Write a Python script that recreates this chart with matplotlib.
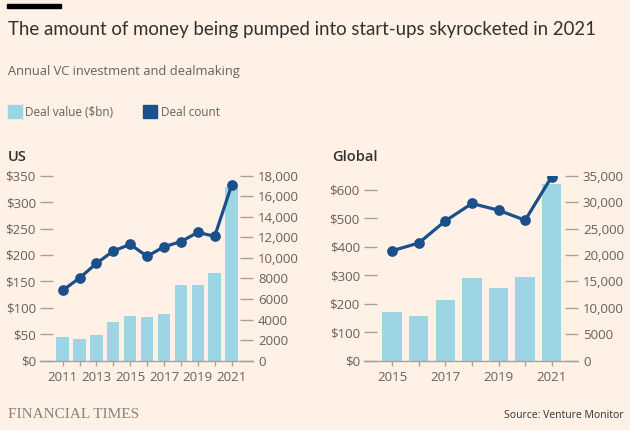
import matplotlib
matplotlib.use("Agg")
import matplotlib.pyplot as plt
from matplotlib.patches import Rectangle

# data
us_years = [2011, 2012, 2013, 2014, 2015, 2016, 2017, 2018, 2019, 2020, 2021]
us_value = [45, 41, 48, 74, 85, 82, 88, 144, 144, 166, 329]
us_count = [6840, 8040, 9470, 10670, 11320, 10150, 11090, 11580, 12490, 12100, 17060]

gl_years = [2015, 2016, 2017, 2018, 2019, 2020, 2021]
gl_value = [170, 157, 212, 289, 257, 294, 621]
gl_count = [20800, 22260, 26440, 29740, 28470, 26570, 34810]

us_left_ticks = [0, 50, 100, 150, 200, 250, 300, 350]
us_right_ticks = [0, 2000, 4000, 6000, 8000, 10000, 12000, 14000, 16000, 18000]
gl_left_ticks = [0, 100, 200, 300, 400, 500, 600]
gl_right_ticks = [0, 5000, 10000, 15000, 20000, 25000, 30000, 35000]

BG = "#fff1e5"
BAR = "#9dd5e5"
LINE = "#1b4f8a"
TICK = "#a8a19b"
LABEL = "#66605c"
DARK = "#33302e"

plt.rcParams['font.family'] = ['Open Sans', 'DejaVu Sans']


def fmt_count(v):
    # FT style: no comma for 4-digit numbers
    if v < 10000:
        return "{}".format(v)
    return "{:,}".format(v)


def panel(rect, years, value, count, ylim, ylim2, lticks, rticks, labelled):
    ax = fig.add_axes(rect)
    ax.set_facecolor("none")
    ax.bar(years, value, width=0.73, color=BAR, zorder=2)
    ax.set_ylim(0, ylim)
    ax.set_xlim(years[0] - 0.57, years[-1] + 0.5)
    ax.set_yticks(lticks)
    ax.set_yticklabels(["${}".format(t) for t in lticks])
    ax.set_xticks(years)
    ax.set_xticklabels([str(y) if y in labelled else "" for y in years])
    for s in ax.spines.values():
        s.set_visible(False)
    ax.tick_params(axis="y", length=9.4, width=1, color=TICK, pad=3,
                   labelsize=9.5, labelcolor=LABEL)
    ax.tick_params(axis="x", length=3.6, width=1, color=TICK, pad=4,
                   labelsize=9.5, labelcolor=LABEL)
    ext = 13.0 / (rect[2] * 630)
    ax.axhline(0, xmin=-ext, xmax=1 + ext, color=TICK, lw=1, clip_on=False, zorder=3)

    ax2 = ax.twinx()
    ax2.plot(years, count, color=LINE, lw=2.3, marker="o", markersize=6.7,
             solid_capstyle="round", zorder=4)
    ax2.set_ylim(0, ylim2)
    ax2.set_yticks(rticks)
    ax2.set_yticklabels([fmt_count(t) for t in rticks])
    for s in ax2.spines.values():
        s.set_visible(False)
    ax2.tick_params(axis="y", length=9.4, width=1, color=TICK, pad=3.5,
                    labelsize=9.5, labelcolor=LABEL)
    return ax, ax2


fig = plt.figure(figsize=(6.3, 4.3), dpi=100, facecolor=BG)

panel([53 / 630, 0.1612, 187 / 630, 0.4302], us_years, us_value, us_count,
      350, 18000, us_left_ticks, us_right_ticks, [2011, 2013, 2015, 2017, 2019, 2021])
panel([377 / 630, 0.1612, 188 / 630, 0.4302], gl_years, gl_value, gl_count,
      650, 35000, gl_left_ticks, gl_right_ticks, [2015, 2017, 2019, 2021])

# header
fig.patches.append(Rectangle((7 / 630, 1 - 8 / 430), 54 / 630, 4 / 430,
                             transform=fig.transFigure, color="black"))
fig.text(8 / 630, 1 - 29 / 430, "The amount of money being pumped into start-ups skyrocketed in 2021",
         fontsize=13.4, color=DARK, va="center", ha="left", family=["Lato", "DejaVu Sans"])
fig.text(8 / 630, 1 - 71 / 430, "Annual VC investment and dealmaking",
         fontsize=9.3, color=LABEL, va="center", ha="left")

# legend
fig.patches.append(Rectangle((8 / 630, 1 - 118 / 430), 14 / 630, 13 / 430,
                             transform=fig.transFigure, color=BAR))
fig.text(25 / 630, 1 - 112 / 430, "Deal value ($bn)", fontsize=8.5, color=LABEL, va="center")
fig.patches.append(Rectangle((143 / 630, 1 - 118 / 430), 14 / 630, 13 / 430,
                             transform=fig.transFigure, color=LINE))
fig.text(161 / 630, 1 - 112 / 430, "Deal count", fontsize=8.5, color=LABEL, va="center")

fig.text(8 / 630, 1 - 157 / 430, "US", fontsize=10.5, color=DARK, weight="semibold", va="center")
fig.text(332 / 630, 1 - 157 / 430, "Global", fontsize=10.5, color=DARK, weight="semibold", va="center")

# footer
fig.text(8 / 630, 1 - 415 / 430, "FINANCIAL TIMES", fontsize=11, color="#8a817a",
         family="Liberation Serif", va="center")
fig.text(624 / 630, 1 - 415 / 430, "Source: Venture Monitor", fontsize=7.5, color=DARK,
         ha="right", va="center")

fig.savefig("out.png", dpi=100, facecolor=BG)
